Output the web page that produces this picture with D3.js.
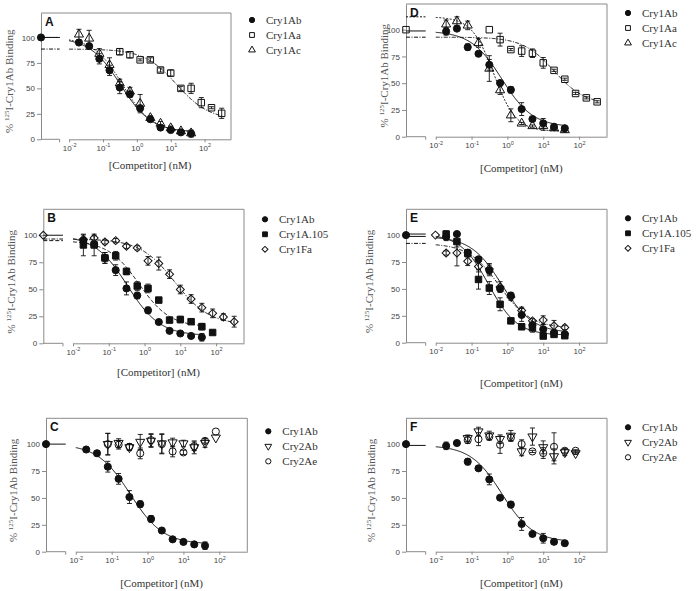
<!DOCTYPE html>
<html>
<head>
<meta charset="utf-8">
<title>Cry1Ab binding competition</title>
<script src="https://d3js.org/d3.v7.min.js"></script>
<style>
  html, body { margin: 0; padding: 0; background: #fff; }
  svg { display: block; }
  .tick text { font-family: Arial, "Liberation Sans", sans-serif; fill: #444; }
  .serif { font-family: "Times New Roman", "Liberation Serif", serif; }
</style>
</head>
<body>
<div id="chart"></div>
<script>
// competitor concentrations (nM), two-fold series
var conc = [0.0098, 0.0195, 0.039, 0.078, 0.156, 0.3125, 0.625, 1.25, 2.5, 5, 10, 20, 40, 80, 160, 320];
var _ = null;

// Cry1Ab self-competition, left column (A, B, C)
var cry1AbLeft    = [_, 95, 91.5, 79, 67.7, 50.8, 44.2, 30.5, 19.7, 11.5, 9.1, 6.8, 5.6, _, _, _];
var cry1AbLeftErr = [_, 2, 2.5, 5, 5, 6, 3, 3, 1, 1, 1, 1, 3.5, _, _, _];
// Cry1Ab self-competition, right column (D, E, F)
var cry1AbRight    = [_, 98.4, 101, 83.7, 77.5, 67.2, 50.2, 43.8, 25.8, 16.5, 12.5, 9.2, 7.9, _, _, _];
var cry1AbRightErr = [_, 3.5, 0.5, 3, 1.5, 5, 1.5, 3, 6, 1, 4.5, 2.5, 1.5, _, _, _];

// A
var aCry1Aa    = [_, _, _, _, _, 86, 83, 78, 78, 68, 65, 50, 50, 36, 31, 25.5];
var aCry1AaErr = [_, _, _, _, _, 3, 3, 1, 2, 2, 3, 2, 5, 5, 1, 5];
var aCry1Ac    = [_, 103, 99, 84, 73, 55, 47, 35, 21, 15.5, 11, 8, 6, _, _, _];
var aCry1AcErr = [_, 5, 8, 5, 7, 4, 4, 9, 2, 2, 2, 1, 2, _, _, _];
// B
var bCry1A105    = [_, 91, 91, 79, 81, 66.5, 53, 50.8, 40, 21.5, 22, 20, 15.4, 10, _, _];
var bCry1A105Err = [_, 10, 10, 5, 4, 3, 4, 4, 1, 2, 3, 1, 3, 2, _, _];
var bCry1Fa      = [_, 96.3, 97.5, 93.8, 95, 89.8, 88.3, 76.3, 73.8, 64, 49.8, 41, 33, 27.7, 24.3, 20];
var bCry1FaErr   = [_, 4, 2, 2, 2, 2, 2, 4, 6, 4, 4, 4, 4, 4, 3, 5];
// C
var cCry2Ab    = [_, _, _, 100, 101, 97, 102, 103, 100.6, 101.5, 100.6, 97, 101, 106, _, _];
var cCry2AbErr = [_, _, _, 10, 4, 3, 7, 6, 9, 4, 3, 6, 4, 0, _, _];
var cCry2Ae    = [_, _, _, 100, 99.4, 97.5, 91.4, 103.7, 100, 93.2, 92.3, 98, 103, 111.7, _, _];
var cCry2AeErr = [_, _, _, 10, 4, 3, 5, 6, 9, 5, 2, 4, 2, 0, _, _];
// D
var dCry1Aa    = [_, _, _, _, _, 100, 90.7, 81.4, 80, 78, 69, 62, 53.7, 40.4, 36.3, 32.6];
var dCry1AaErr = [_, _, _, _, _, 0, 6, 1, 5, 4, 5, 1, 1, 1, 1, 1];
var dCry1Ac    = [_, 105, 108, 104, 87.6, 63.7, 43.5, 20, 12.4, 10, 10, 8, 6.2, _, _, _];
var dCry1AcErr = [_, 4, 4, 4, 4, 12, 4, 6, 1, 1, 4, 2, 2, _, _, _];
// E
var eCry1A105    = [_, 101, 94, 83, 58.8, 50.8, 35.7, 20.3, 14.8, 13.8, 6.2, 7.7, 6.5, _, _, _];
var eCry1A105Err = [_, 3, 5, 3, 9, 6, 6, 2, 2, 4, 2, 2, 2, _, _, _];
var eCry1Fa      = [100, 83.4, 83.4, 75.7, 70.8, 68.6, 51.7, 42.5, 30, 20.3, 21, 15.7, 14.2, _, _, _];
var eCry1FaErr   = [0, 2, 12, 4, 5, 5, 5, 3, 3, 2, 4, 5, 2, _, _, _];
// F
var fCry2Ab    = [_, _, _, 105.5, 111.7, 108, 104.6, 107.7, 93.2, 107, 97, 88.6, 92.3, 91.4, _, _];
var fCry2AbErr = [_, _, _, 3, 4, 4, 4, 5, 4, 8, 6, 7, 3, 1, _, _];
var fCry2Ae    = [_, _, _, 103.7, 104.6, 106.8, 99.4, 106, 100, 93.2, 91.7, 97.5, 93.8, 93.8, _, _];
var fCry2AeErr = [_, _, _, 3, 6, 3, 8, 3, 4, 1, 5, 13, 2, 1, _, _];

// fitted one-site curves: [top, bottom, IC50 (nM), hill slope]
var fitCry1AbLeft  = [100, 7, 0.33, 0.95];
var fitCry1AbRight = [98.8, 9, 0.7, 1];
var fitACry1Aa     = [88.6, 19, 15, 0.9];
var fitACry1Ac     = [100, 7, 0.38, 1];
var fitBCry1A105   = [95, 15, 0.7, 1];
var fitBCry1Fa     = [96.5, 17, 7, 0.9];
var fitDCry1Aa     = [93, 30, 20, 1];
var fitDCry1Ac     = [112, 5, 0.42, 1.4];
var fitECry1A105   = [101, 7, 0.3, 1.1];
var fitECry1Fa     = [92.3, 13.5, 0.6, 1];

var yTicks = [0, 25, 50, 75, 100];
var xTicks = [1e-2, 1e-1, 1e0, 1e1, 1e2];

var panels = [
  {letter: 'A', x0: 41, x1: 231, y0: 13, y1: 139.3, ylabDx: 28, titleDy: 30, legY: 7, control: 'dot',
   series: [
     {name: 'Cry1Ab', y: cry1AbLeft, err: cry1AbLeftErr, mark: 'dot', fit: fitCry1AbLeft, dash: null},
     {name: 'Cry1Aa', y: aCry1Aa, err: aCry1AaErr, mark: 'square', fit: fitACry1Aa, dash: '4,1.5,1,1.5'},
     {name: 'Cry1Ac', y: aCry1Ac, err: aCry1AcErr, mark: 'tri', fit: fitACry1Ac, dash: '1.5,1.5'}]},
  {letter: 'B', x0: 43.3, x1: 244, y0: 209.3, y1: 343.3, ylabDx: 28, titleDy: 33, legY: 10, control: 'diamond',
   series: [
     {name: 'Cry1Ab', y: cry1AbLeft, err: cry1AbLeftErr, mark: 'dot', fit: fitCry1AbLeft, dash: null},
     {name: 'Cry1A.105', y: bCry1A105, err: bCry1A105Err, mark: 'squareFilled', fit: fitBCry1A105, dash: '4,2', fitMax: 40},
     {name: 'Cry1Fa', y: bCry1Fa, err: bCry1FaErr, mark: 'diamond', fit: fitBCry1Fa, dash: '4,1.5,1,1.5'}]},
  {letter: 'C', x0: 46, x1: 247.3, y0: 418.3, y1: 551.7, ylabDx: 29, titleDy: 35, legY: 13, control: 'dot',
   series: [
     {name: 'Cry1Ab', y: cry1AbLeft, err: cry1AbLeftErr, mark: 'dot', fit: fitCry1AbLeft, dash: null},
     {name: 'Cry2Ab', y: cCry2Ab, err: cCry2AbErr, mark: 'triDown', fit: null},
     {name: 'Cry2Ae', y: cCry2Ae, err: cCry2AeErr, mark: 'ring', fit: null}]},
  {letter: 'D', x0: 406, x1: 607, y0: 4, y1: 136.7, ylabDx: 18, titleDy: 35, legY: 9, control: 'square',
   series: [
     {name: 'Cry1Ab', y: cry1AbRight, err: cry1AbRightErr, mark: 'dot', fit: fitCry1AbRight, dash: null},
     {name: 'Cry1Aa', y: dCry1Aa, err: dCry1AaErr, mark: 'square', fit: fitDCry1Aa, dash: '4,1.5,1,1.5'},
     {name: 'Cry1Ac', y: dCry1Ac, err: dCry1AcErr, mark: 'tri', fit: fitDCry1Ac, dash: '2,1.5'}]},
  {letter: 'E', x0: 406, x1: 607, y0: 209.3, y1: 342.7, ylabDx: 33, titleDy: 44, legY: 9, control: 'dot',
   series: [
     {name: 'Cry1Ab', y: cry1AbRight, err: cry1AbRightErr, mark: 'dot', fit: fitCry1AbRight, dash: null},
     {name: 'Cry1A.105', y: eCry1A105, err: eCry1A105Err, mark: 'squareFilled', fit: fitECry1A105, dash: null},
     {name: 'Cry1Fa', y: eCry1Fa, err: eCry1FaErr, mark: 'diamond', fit: fitECry1Fa, dash: '4,1.5,1,1.5'}]},
  {letter: 'F', x0: 406, x1: 607, y0: 418.3, y1: 551.7, ylabDx: 31, titleDy: 35, legY: 9, control: 'dot',
   series: [
     {name: 'Cry1Ab', y: cry1AbRight, err: cry1AbRightErr, mark: 'dot', fit: fitCry1AbRight, dash: null},
     {name: 'Cry2Ab', y: fCry2Ab, err: fCry2AbErr, mark: 'triDown', fit: null},
     {name: 'Cry2Ae', y: fCry2Ae, err: fCry2AeErr, mark: 'ring', fit: null}]}
];

var svg = d3.select('#chart').append('svg')
    .attr('width', 697)
    .attr('height', 591);

var ink = '#111';
var frameCol = '#8a8a8a';

function markerPath(kind, scale) {
    var s = scale || 1;
    if (kind == 'dot' || kind == 'ring') return d3.symbol(d3.symbolCircle, 40 * s)();
    if (kind == 'square' || kind == 'squareFilled') return d3.symbol(d3.symbolSquare, 42 * s)();
    if (kind == 'diamond') return d3.symbol(d3.symbolSquare, 32 * s)();
    return d3.symbol(d3.symbolTriangle, 36 * s)();
}
function markerRot(kind) {
    if (kind == 'diamond') return 45;
    if (kind == 'triDown') return 180;
    return 0;
}
function isFilled(kind) { return kind == 'dot' || kind == 'squareFilled'; }

function drawMarker(g, kind, x, y, scale) {
    g.append('path')
        .attr('d', markerPath(kind, scale))
        .attr('transform', 'translate(' + x + ',' + y + ') rotate(' + markerRot(kind) + ')')
        .attr('fill', isFilled(kind) ? ink : 'none')
        .attr('stroke', ink)
        .attr('stroke-width', 1);
}

function hillCurve(p) {
    return function(x) { return p[1] + (p[0] - p[1]) / (1 + Math.pow(x / p[2], p[3])); };
}

panels.forEach(function(p) {
    var g = svg.append('g');
    var w = p.x1 - p.x0;
    var breakX = p.x0 + 0.098 * w;
    var logX0 = p.x0 + 0.148 * w;

    var x = d3.scaleLog().domain([1e-2, Math.pow(10, 2.78)]).range([logX0, p.x1]);
    var y = d3.scaleLinear().domain([0, 124]).range([p.y1, p.y0]);

    // frame (top, right) and broken bottom axis
    g.append('path')
        .attr('d', 'M' + p.x0 + ',' + p.y0 + 'H' + p.x1 + 'V' + p.y1)
        .attr('fill', 'none').attr('stroke', frameCol);
    g.append('line')
        .attr('x1', p.x0).attr('x2', breakX).attr('y1', p.y1).attr('y2', p.y1)
        .attr('stroke', frameCol);
    g.append('line')
        .attr('x1', breakX).attr('x2', breakX).attr('y1', p.y1).attr('y2', p.y1 + 3)
        .attr('stroke', frameCol);

    var xAxis = g.append('g')
        .attr('transform', 'translate(0,' + p.y1 + ')')
        .call(d3.axisBottom(x).tickValues(xTicks).tickSize(3).tickSizeOuter(0).tickPadding(3));
    xAxis.selectAll('path, line').attr('stroke', frameCol);
    xAxis.selectAll('.tick text')
        .attr('font-size', 8)
        .each(function(d) {
            var t = d3.select(this);
            t.text('10');
            t.append('tspan').attr('dy', -3.5).attr('font-size', 5.5).text(Math.round(Math.log10(d)));
        });

    var yAxis = g.append('g')
        .attr('transform', 'translate(' + p.x0 + ',0)')
        .call(d3.axisLeft(y).tickValues(yTicks).tickSize(4).tickSizeOuter(0).tickPadding(2));
    yAxis.selectAll('path, line').attr('stroke', frameCol);
    yAxis.selectAll('.tick text').attr('font-size', 8);

    // axis titles
    var yl = g.append('text')
        .attr('class', 'serif')
        .attr('transform', 'translate(' + (p.x0 - p.ylabDx) + ',' + y(57) + ') rotate(-90)')
        .attr('text-anchor', 'middle')
        .attr('font-size', 11)
        .attr('fill', '#555');
    yl.append('tspan').text('% ');
    yl.append('tspan').attr('dy', -4).attr('font-size', 7).text('125');
    yl.append('tspan').attr('dy', 4).text('I-Cry1Ab Binding');

    g.append('text')
        .attr('class', 'serif')
        .attr('x', (logX0 + p.x1) / 2)
        .attr('y', p.y1 + p.titleDy)
        .attr('text-anchor', 'middle')
        .attr('font-size', 11)
        .attr('fill', '#333')
        .text('[Competitor] (nM)');

    g.append('text')
        .attr('x', p.x0 + 4)
        .attr('y', p.y0 + 13)
        .attr('font-family', 'Arial, sans-serif')
        .attr('font-weight', 'bold')
        .attr('font-size', 12)
        .attr('fill', ink)
        .text(p.letter);

    // fitted curves, with their plateau in the zero-competitor segment
    var line = d3.line().x(function(d) { return x(d[0]); }).y(function(d) { return y(d[1]); });
    p.series.forEach(function(s) {
        if (!s.fit) return;
        var f = hillCurve(s.fit);
        var last = s.fitMax || d3.max(conc.filter(function(c, i) { return s.y[i] != null; }));
        var pts = d3.range(-2, Math.log10(last) + 0.001, 0.02).map(function(l) {
            var c = Math.pow(10, l);
            return [c, f(c)];
        });
        g.append('path')
            .attr('d', line(pts))
            .attr('fill', 'none')
            .attr('stroke', ink)
            .attr('stroke-width', 1)
            .attr('stroke-dasharray', s.dash);
        g.append('line')
            .attr('x1', p.x0).attr('x2', breakX)
            .attr('y1', y(s.fit[0])).attr('y2', y(s.fit[0]))
            .attr('stroke', ink)
            .attr('stroke-dasharray', s.dash);
    });

    // error bars
    p.series.forEach(function(s) {
        conc.forEach(function(c, i) {
            if (s.y[i] == null || !s.err[i]) return;
            var cx = x(c), top = y(s.y[i] + s.err[i]), bot = y(s.y[i] - s.err[i]);
            g.append('path')
                .attr('d', 'M' + cx + ',' + top + 'V' + bot +
                    'M' + (cx - 2.5) + ',' + top + 'H' + (cx + 2.5) +
                    'M' + (cx - 2.5) + ',' + bot + 'H' + (cx + 2.5))
                .attr('stroke', ink)
                .attr('stroke-width', 0.9)
                .attr('fill', 'none');
        });
    });

    // points
    p.series.forEach(function(s) {
        conc.forEach(function(c, i) {
            if (s.y[i] == null) return;
            drawMarker(g, s.mark, x(c), y(s.y[i]));
        });
    });
    drawMarker(g, p.control, p.x0, y(100));

    // legend
    p.series.forEach(function(s, i) {
        var ly = p.y0 + p.legY + i * 15;
        drawMarker(g, s.mark, p.x1 + 21, ly, 0.55);
        g.append('text')
            .attr('class', 'serif')
            .attr('x', p.x1 + 35)
            .attr('y', ly + 4)
            .attr('font-size', 11)
            .attr('fill', '#333')
            .text(s.name);
    });
});
</script>
</body>
</html>
